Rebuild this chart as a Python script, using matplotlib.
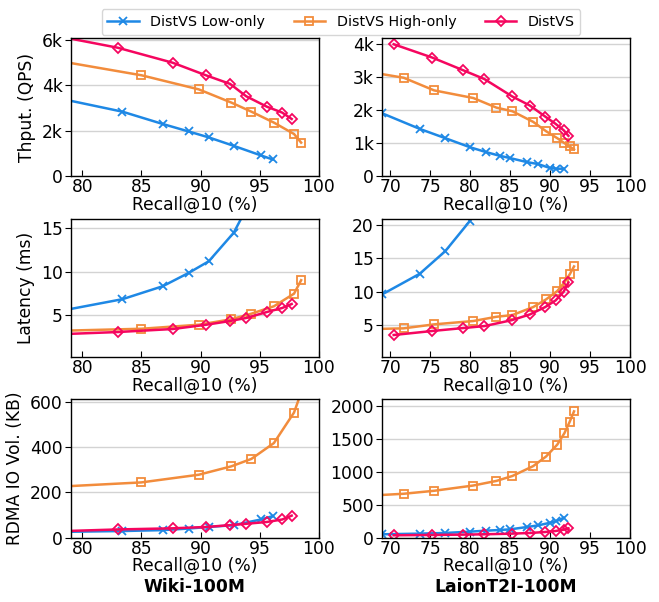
import numpy as np
import matplotlib
matplotlib.use("Agg")
import matplotlib.pyplot as plt
from matplotlib.ticker import FuncFormatter, MultipleLocator

# ---- Wiki-100M ----
wiki_low_recall = [78.0, 83.4, 86.8, 89.0, 90.7, 92.8, 95.1, 96.1]
wiki_low_qps = [3430, 2840, 2300, 1970, 1710, 1340, 920, 740]
wiki_low_lat = [5.4, 6.8, 8.3, 9.85, 11.2, 14.5, 20.5, 26.0]
wiki_low_rdma = [25, 29, 33, 40, 47, 55, 80, 95]

wiki_high_recall = [78.0, 85.0, 89.85, 92.6, 94.3, 96.2, 97.9, 98.5]
wiki_high_qps = [5070, 4440, 3820, 3240, 2840, 2360, 1860, 1480]
wiki_high_lat = [3.13, 3.37, 3.84, 4.47, 5.12, 5.98, 7.44, 9.0]
wiki_high_rdma = [225, 244, 278, 315, 348, 418, 553, 641]

wiki_dist_recall = [78.0, 83.0, 87.65, 90.5, 92.5, 93.85, 95.6, 96.9, 97.7]
wiki_dist_qps = [6150, 5650, 4990, 4430, 4060, 3520, 3060, 2800, 2520]
wiki_dist_lat = [2.73, 2.99, 3.34, 3.84, 4.27, 4.62, 5.31, 5.78, 6.24]
wiki_dist_rdma = [28, 36, 41, 47, 55, 61, 69, 80, 97]

# ---- LaionT2I-100M ----
laion_low_recall = [69.0, 73.7, 76.9, 79.95, 82.0, 83.7, 85.0, 87.1, 88.5, 90.0, 90.8, 91.7]
laion_low_qps = [1900, 1430, 1150, 880, 730, 620, 550, 430, 370, 250, 230, 230]
laion_low_lat = [9.6, 12.7, 16.1, 20.6, 26.0]
laion_low_rdma = [50, 60, 70, 90, 105, 115, 125, 160, 185, 225, 250, 300]

laion_high_recall = [68.0, 71.7, 75.5, 80.4, 83.3, 85.3, 87.9, 89.5, 90.9, 91.8, 92.45, 93.0]
laion_high_qps = [3120, 2970, 2590, 2360, 2070, 1960, 1640, 1360, 1150, 1000, 900, 810]
laion_high_lat = [4.4, 4.5, 5.1, 5.6, 6.24, 6.5, 7.7, 8.85, 10.1, 11.4, 12.6, 13.8]
laion_high_rdma = [640, 665, 710, 790, 860, 935, 1085, 1230, 1410, 1585, 1755, 1915]

laion_dist_recall = [70.45, 75.25, 79.1, 81.8, 85.25, 87.5, 89.4, 90.7, 91.7, 92.3]
laion_dist_qps = [3980, 3580, 3200, 2930, 2410, 2130, 1800, 1580, 1390, 1220]
laion_dist_lat = [3.5, 4.1, 4.54, 4.84, 5.74, 6.6, 7.7, 8.7, 10.0, 11.4]
laion_dist_rdma = [35, 40, 45, 50, 60, 70, 85, 100, 120, 140]

series_names = ["DistVS Low-only", "DistVS High-only", "DistVS"]
colors = ["#1E88E5", "#F28C3C", "#F5065F"]
markers = ["x", "s", "D"]
msizes = [6, 6, 5.2]

FS = 12.3

plt.rcParams['font.family'] = ['DejaVu Sans']

fig, axes = plt.subplots(3, 2, figsize=(6.59, 6.02), dpi=100)
plt.subplots_adjust(left=0.1077, right=0.956, top=0.937, bottom=0.107, wspace=0.255, hspace=0.305)

wiki = [
	(wiki_low_recall, wiki_low_qps, wiki_low_lat, wiki_low_rdma),
	(wiki_high_recall, wiki_high_qps, wiki_high_lat, wiki_high_rdma),
	(wiki_dist_recall, wiki_dist_qps, wiki_dist_lat, wiki_dist_rdma),
]
laion = [
	(laion_low_recall, laion_low_qps, laion_low_lat, laion_low_rdma),
	(laion_high_recall, laion_high_qps, laion_high_lat, laion_high_rdma),
	(laion_dist_recall, laion_dist_qps, laion_dist_lat, laion_dist_rdma),
]

kfmt = FuncFormatter(lambda v, p: "0" if v == 0 else "%dk" % int(round(v / 1000)))

for col, (data, xlim) in enumerate([(wiki, (79.05, 100)), (laion, (69.0, 100))]):
	for row in range(3):
		ax = axes[row][col]
		for i, s in enumerate(data):
			x = s[0]
			y = s[row + 1]
			ax.plot(x[:len(y)], y, color=colors[i], marker=markers[i], ms=msizes[i],
					mfc="none", mew=1.3, lw=1.8, label=series_names[i])
		ax.set_xlim(*xlim)
		ax.xaxis.set_major_locator(MultipleLocator(5))
		ax.grid(axis="y", color="#d3d3d3", lw=1)
		ax.set_axisbelow(True)
		ax.tick_params(axis="x", direction="in", labelsize=FS, length=4, pad=1.5)
		ax.tick_params(axis="y", direction="out", labelsize=FS, length=4, pad=2)
		ax.set_xlabel("Recall@10 (%)", fontsize=FS, labelpad=-0.5)
		for sp in ax.spines.values():
			sp.set_linewidth(1.0)

# y ranges / ticks
axes[0][0].set_ylim(0, 6080)
axes[0][0].set_yticks([0, 2000, 4000, 6000])
axes[0][0].yaxis.set_major_formatter(kfmt)
axes[0][1].set_ylim(0, 4170)
axes[0][1].set_yticks([0, 1000, 2000, 3000, 4000])
axes[0][1].yaxis.set_major_formatter(kfmt)

axes[1][0].set_ylim(0.1, 16.15)
axes[1][0].set_yticks([5, 10, 15])
axes[1][1].set_ylim(0.2, 21)
axes[1][1].set_yticks([5, 10, 15, 20])

axes[2][0].set_ylim(0, 612)
axes[2][0].set_yticks([0, 200, 400, 600])
axes[2][1].set_ylim(0, 2100)
axes[2][1].set_yticks([0, 500, 1000, 1500, 2000])

axes[0][0].set_ylabel("Thput. (QPS)", fontsize=FS)
axes[1][0].set_ylabel("Latency (ms)", fontsize=FS)
axes[2][0].set_ylabel("RDMA IO Vol. (KB)", fontsize=FS)

fig.text(194.7 / 659, 1 - 587 / 602, "Wiki-100M", fontsize=FS, weight="bold", ha="center", va="center")
fig.text(505.9 / 659, 1 - 587 / 602, "LaionT2I-100M", fontsize=FS, weight="bold", ha="center", va="center")

handles, labels = axes[0][0].get_legend_handles_labels()
leg = fig.legend(handles, labels, loc="upper center", bbox_to_anchor=(341 / 659, 1 - 2 / 602),
				 ncol=3, fontsize=10.3, frameon=True, fancybox=True, handlelength=2.2,
				 columnspacing=2.0, borderpad=0.4)
leg.get_frame().set_edgecolor("#cccccc")

plt.savefig("out.png", dpi=100)
